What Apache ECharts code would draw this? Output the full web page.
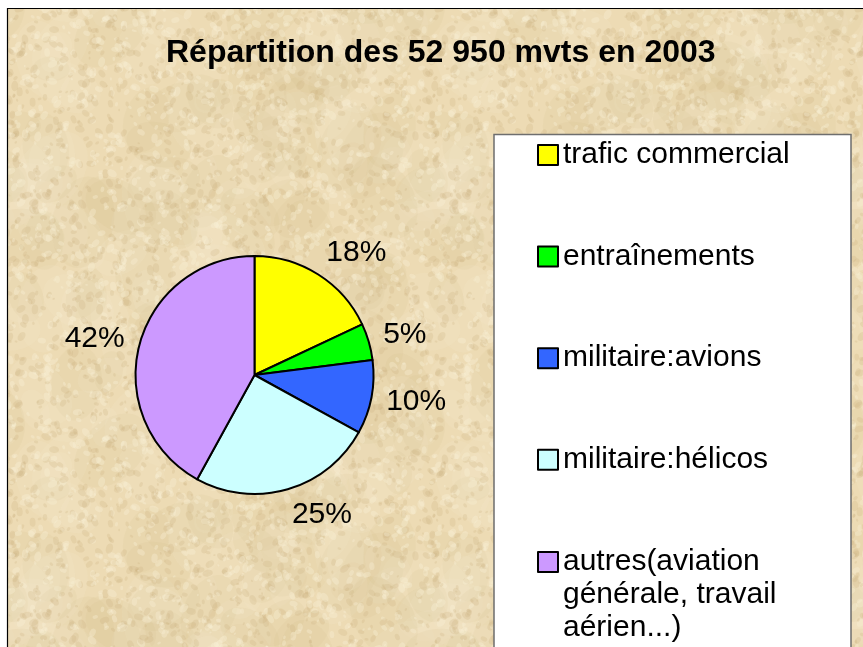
<!DOCTYPE html>
<html>
<head>
<meta charset="utf-8">
<script src="https://cdn.jsdelivr.net/npm/echarts/dist/echarts.min.js"></script>
<style>
  html, body { margin: 0; padding: 0; background: #fff; overflow: hidden; }
  #chart { width: 863px; height: 647px; }
</style>
</head>
<body>
<div id="chart"></div>
<script>
var categories = ['trafic commercial', 'entraînements', 'militaire:avions', 'militaire:hélicos', 'autres(aviation\ngénérale, travail\naérien...)']
var shares = [18, 5, 10, 25, 42]
var sliceColors = ['#ffff00', '#00ff00', '#3366ff', '#ccffff', '#cc99ff']

var pieX = 254.5, pieY = 375, pieR = 119
var font = "'Liberation Sans', Arial, sans-serif"

// parchment look for the plot area (fixed seed, only decoration)
function parchment() {
  var size = 420
  var c = document.createElement('canvas')
  c.width = size
  c.height = size
  var ctx = c.getContext('2d')
  ctx.fillStyle = '#eddbb4'
  ctx.fillRect(0, 0, size, size)
  var seed = 11
  function rnd() {
    seed = (seed * 16807) % 2147483647
    return seed / 2147483647
  }
  function blot(n, rMin, rMax, lightA, darkA) {
    for (var i = 0; i < n; i++) {
      var x = rnd() * size, y = rnd() * size, r = rMin + rnd() * (rMax - rMin)
      var light = rnd() > 0.5
      var rot = rnd() * 3
      ctx.fillStyle = light ? 'rgba(250,240,215,' + lightA + ')' : 'rgba(200,172,125,' + darkA + ')'
      for (var dx = -size; dx <= size; dx += size) {
        for (var dy = -size; dy <= size; dy += size) {
          ctx.beginPath()
          ctx.ellipse(x + dx, y + dy, r * 1.5, r, rot, 0, Math.PI * 2)
          ctx.fill()
        }
      }
    }
  }
  blot(160, 12, 32, 0.12, 0.09)
  blot(3000, 0.8, 3.5, 0.35, 0.22)
  return c
}

var chart = echarts.init(document.getElementById('chart'), null, { renderer: 'canvas' })

// excel style: label box pushed out from the slice middle
function placeLabel(p) {
  var total = 0, before = 0
  for (var i = 0; i < shares.length; i++) {
    total += shares[i]
    if (i < p.dataIndex) before += shares[i]
  }
  var a = (before + shares[p.dataIndex] / 2) / total * Math.PI * 2
  var ux = Math.sin(a), uy = -Math.cos(a)
  var d = 15
  var w = p.labelRect.width
  return {
    x: pieX + (pieR + d) * ux + w / 2 * (ux >= 0 ? 1 : -1),
    y: pieY + (pieR + d) * uy + 11 * uy,
    align: 'center',
    verticalAlign: 'middle'
  }
}

var legendText = { fontSize: 30, lineHeight: 33, fontFamily: font, color: '#000' }

chart.setOption({
  backgroundColor: '#fff',
  animation: false,
  color: sliceColors,
  graphic: [
    {
      type: 'rect', z: -10, silent: true,
      shape: { x: 7.5, y: 8.5, width: 900, height: 700 },
      style: { fill: { image: parchment(), repeat: 'repeat' }, stroke: '#000', lineWidth: 1.2 }
    },
    {
      type: 'rect', z: 1, silent: true,
      shape: { x: 494, y: 134.5, width: 357, height: 600 },
      style: { fill: '#fff', stroke: '#6e6e6e', lineWidth: 1.5 }
    }
  ],
  title: {
    text: 'Répartition des 52 950 mvts en 2003',
    left: 166,
    top: 37,
    padding: 0,
    textStyle: { fontSize: 32, fontWeight: 'bold', fontFamily: font, color: '#000' }
  },
  legend: [
    {
      data: categories.slice(0, 4),
      orient: 'vertical',
      left: 537,
      top: 138.5,
      padding: 0,
      itemGap: 68.6,
      itemWidth: 20,
      itemHeight: 20,
      icon: 'rect',
      selectedMode: false,
      itemStyle: { borderColor: '#000', borderWidth: 2 },
      textStyle: legendText
    },
    {
      // last name runs on three lines, keep its box level with the first one
      data: categories.slice(4),
      orient: 'vertical',
      left: 537,
      top: 479.5,
      padding: 0,
      itemWidth: 20,
      itemHeight: 20,
      icon: 'rect',
      selectedMode: false,
      formatter: function (name) { return '\n\n' + name },
      itemStyle: { borderColor: '#000', borderWidth: 2 },
      textStyle: legendText
    }
  ],
  series: [
    {
      type: 'pie',
      center: [pieX, pieY],
      radius: pieR,
      startAngle: 90,
      clockwise: true,
      avoidLabelOverlap: false,
      percentPrecision: 0,
      data: categories.map(function (c, i) { return { name: c, value: shares[i] } }),
      itemStyle: { borderColor: '#000', borderWidth: 2 },
      label: {
        show: true,
        position: 'outside',
        formatter: '{d}%',
        fontSize: 30,
        fontFamily: font,
        color: '#000'
      },
      labelLine: { show: false },
      labelLayout: placeLabel,
      emphasis: { disabled: true }
    }
  ]
})
</script>
</body>
</html>
